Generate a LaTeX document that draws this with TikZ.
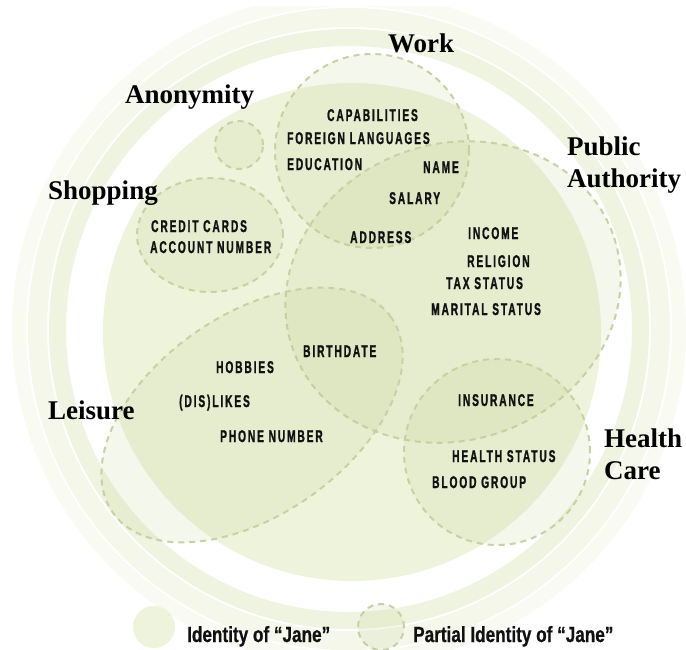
\documentclass[tikz,border=0pt]{standalone}
\usepackage{fontspec}
\setmainfont{Liberation Serif}
\newfontfamily\labfont[FakeStretch=0.6,LetterSpace=11,FakeBold=1.2]{Liberation Sans}
\newfontfamily\legfont[FakeStretch=0.78,FakeBold=0.6]{Liberation Sans}
\definecolor{ringA}{HTML}{EFF4E0}
\definecolor{ringB}{HTML}{F4F7EA}
\definecolor{ringC}{HTML}{F9FBF3}
\definecolor{maincol}{HTML}{EEF3DC}
\definecolor{partfill}{HTML}{B5C97A}
\definecolor{dashcol}{HTML}{C9D1A3}
\definecolor{inktext}{HTML}{111111}
\begin{document}
\begin{tikzpicture}[x=1pt,y=-1pt,
  part/.style={fill=partfill, fill opacity=0.14, draw=dashcol, line width=2pt, dash pattern=on 6pt off 5pt},
  item/.style={anchor=base west, inner sep=0pt, text=inktext, font=\labfont\bfseries\fontsize{17}{18}\selectfont},
  area/.style={anchor=base west, inner sep=0pt, text=black, font=\bfseries\fontsize{27}{28}\selectfont},
  legtext/.style={anchor=base west, inner sep=0pt, text=inktext, font=\legfont\bfseries\fontsize{22}{22}\selectfont}]
\useasboundingbox (0,0) rectangle (686,649);
\fill[white] (0,0) rectangle (686,649);
% background rings
\begin{scope}
  \clip (0,6) rectangle (686,649);
  \fill[ringC, even odd rule] (349,329) circle (337pt) (349,329) circle (323pt);
  \fill[ringB, even odd rule] (349,329) circle (321pt) (349,329) circle (302pt);
  \fill[ringA, even odd rule] (349,329) circle (300pt) (349,329) circle (283pt);
\end{scope}
% identity of Jane
\fill[maincol] (352,332) circle (249pt);
% partial identities
\path[part] (372,151) circle (97pt);
\path[part] (239,145) circle (24pt);
\path[part] (210,235) ellipse [x radius=73pt, y radius=57pt];
\path[part, rotate around={20:(453,292)}] (453,292) ellipse [x radius=170pt, y radius=148pt];
\path[part, rotate around={35:(252,415)}] (252,415) ellipse [x radius=170pt, y radius=100pt];
\path[part] (497,452) circle (93pt);
% area labels
\node[area] (work) at (388,52) {Work};
\node[area] (anon) at (125,103) {Anonymity};
\node[area] (shop) at (48,199) {Shopping};
\node[area] (pub) at (567,155) {Public};
\node[area] (auth) at (567,187) {Authority};
\node[area] (leis) at (48,419) {Leisure};
\node[area] (heal) at (604,447) {Health};
\node[area] (care) at (604,479) {Care};
% items
\node[item] (i1) at (327,121) {CAPABILITIES};
\node[item] (i2) at (287,144) {FOREIGN LANGUAGES};
\node[item] (i3) at (287,170) {EDUCATION};
\node[item] (i4) at (423,173) {NAME};
\node[item] (i5) at (389,204) {SALARY};
\node[item] (i6) at (350,243) {ADDRESS};
\node[item] (i7) at (468,239) {INCOME};
\node[item] (i8) at (467,267) {RELIGION};
\node[item] (i9) at (446,289) {TAX STATUS};
\node[item] (i10) at (431,315) {MARITAL STATUS};
\node[item] (i11) at (151,232) {CREDIT CARDS};
\node[item] (i12) at (150,253) {ACCOUNT NUMBER};
\node[item] (i13) at (303,357) {BIRTHDATE};
\node[item] (i14) at (216,373) {HOBBIES};
\node[item] (i15) at (179,407) {(DIS)LIKES};
\node[item] (i16) at (220,442) {PHONE NUMBER};
\node[item] (i17) at (458,406) {INSURANCE};
\node[item] (i18) at (452,462) {HEALTH STATUS};
\node[item] (i19) at (432,488) {BLOOD GROUP};
% legend
\fill[maincol] (154,627) circle (21pt);
\node[legtext] (l1) at (187,642) {Identity of “Jane”};
\path[part] (381,627) circle (23pt);
\node[legtext] (l2) at (413,642) {Partial Identity of “Jane”};
\end{tikzpicture}
\end{document}
